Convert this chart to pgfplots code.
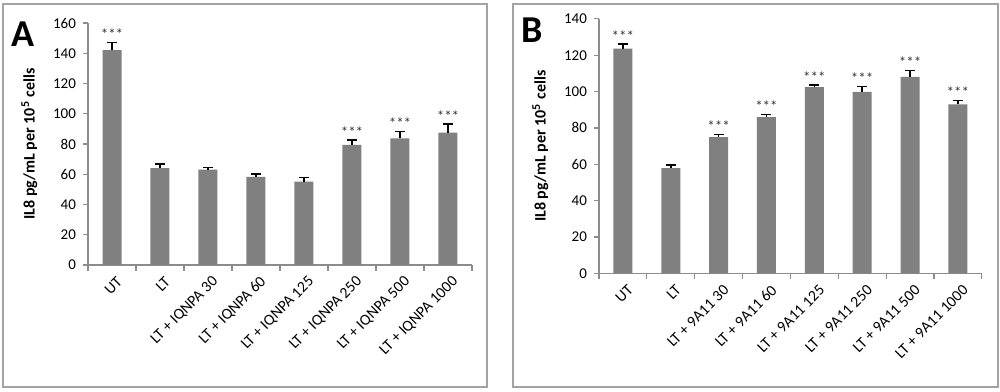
\documentclass[border=0pt]{standalone}
\usepackage{fontspec}
\setmainfont{Carlito}
\usepackage{pgfplots}
\pgfplotsset{compat=1.18}
\definecolor{barg}{HTML}{808080}
\definecolor{axg}{HTML}{8C8C8C}
\pgfplotsset{
  panel/.style={
    scale only axis,
    width=#1,
    xmin=-0.5, xmax=7.5, ymin=0,
    axis x line*=bottom, axis y line*=left,
    axis line style={draw=axg, line width=0.8pt, -},
    tick align=outside,
    xtick={0,...,7},
    major x tick style={draw=none},
    minor xtick={-0.5,0.5,...,7.5},
    minor x tick style={draw=axg, line width=0.6pt},
    minor tick length=3pt,
    major tick length=2.5pt,
    y tick style={draw=axg, line width=0.6pt},
    ytick distance=20,
    tick label style={font=\fontsize{7.5}{8}\selectfont},
    /pgf/number format/assume math mode=true,
    xticklabel style={font=\fontsize{7.8}{8}\selectfont, rotate=45, anchor=east, inner sep=0pt, xshift=-0.5pt, yshift=-6pt},
    ylabel={\textbf{IL8 pg/mL per 10\textsuperscript{5} cells}},
    ylabel style={font=\fontsize{8}{9}\selectfont, at={(ticklabel cs:0.5)}, anchor=south, yshift=1pt},
    clip=false,
  },
  bars/.style={
    ybar, bar width=9.5pt, bar shift=0pt, fill=barg, draw=none,
    error bars/.cd, y dir=plus, y explicit,
    error bar style={black, line width=0.75pt},
    error mark options={rotate=90, black, mark size=2.5pt, line width=0.75pt},
  },
  stars/.style={
    draw=none, mark=none,
    nodes near coords={***},
    nodes near coords style={font=\fontsize{7.5}{7.5}\selectfont, anchor=south, inner sep=1.2pt, text=black!80},
  },
}
\begin{document}
\begin{tikzpicture}
\useasboundingbox (0,0) rectangle (500pt,195.5pt);
\draw[draw=axg!80, line width=1pt] (1.5pt,1.8pt) rectangle (243.5pt,193.5pt);
\draw[draw=axg!80, line width=1pt] (256.5pt,1.8pt) rectangle (498.8pt,193.5pt);
\node[font=\fontsize{19}{19}\selectfont\bfseries, anchor=north west, inner sep=0pt] at (5.5pt,185pt) {A};
\node[font=\fontsize{19}{19}\selectfont\bfseries, anchor=north west, inner sep=0pt] at (260.5pt,187pt) {B};
\begin{axis}[panel=192pt, height=121pt, at={(44pt,63pt)}, anchor=south west, ymax=160,
  xticklabels={UT, LT, LT + IQNPA 30, LT + IQNPA 60, LT + IQNPA 125, LT + IQNPA 250, LT + IQNPA 500, LT + IQNPA 1000}]
\addplot[bars] coordinates {
 (0,142) +- (0,5)
 (1,64) +- (0,2.9)
 (2,63.1) +- (0,1.2)
 (3,58.2) +- (0,2)
 (4,55.1) +- (0,2.6)
 (5,79.5) +- (0,3)
 (6,83.8) +- (0,4.3)
 (7,87.5) +- (0,5.7)
};
\addplot[stars] coordinates {(0,147) (5,82.5) (6,88.1) (7,93.2)};
\end{axis}
\begin{axis}[panel=191.4pt, height=127.2pt, at={(299.5pt,58.85pt)}, anchor=south west, ymax=140,
  xticklabels={UT, LT, LT + 9A11 30, LT + 9A11 60, LT + 9A11 125, LT + 9A11 250, LT + 9A11 500, LT + 9A11 1000}]
\addplot[bars] coordinates {
 (0,123.6) +- (0,2.6)
 (1,57.9) +- (0,1.7)
 (2,74.9) +- (0,1.6)
 (3,85.9) +- (0,1.4)
 (4,102.4) +- (0,1.2)
 (5,99.9) +- (0,2.8)
 (6,108.1) +- (0,3.4)
 (7,93) +- (0,2.2)
};
\addplot[stars] coordinates {(0,126.2) (2,76.5) (3,87.3) (4,103.6) (5,102.7) (6,111.5) (7,95.2)};
\end{axis}
\end{tikzpicture}
\end{document}
